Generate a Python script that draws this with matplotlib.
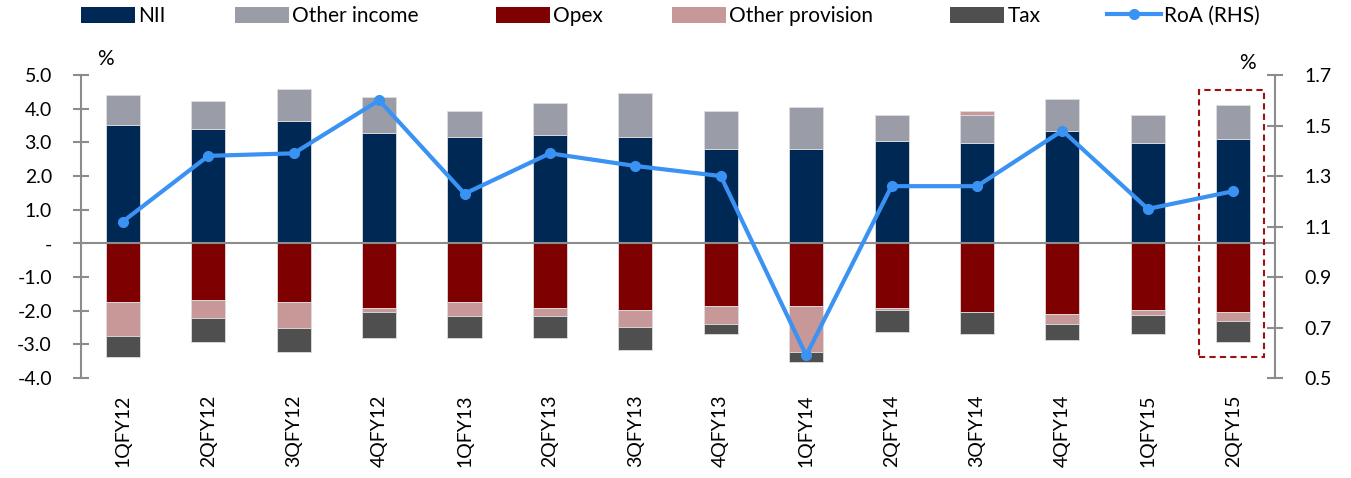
import numpy as np
import matplotlib
matplotlib.use("Agg")
import matplotlib.pyplot as plt
from matplotlib.patches import Patch, Rectangle
from matplotlib.lines import Line2D

plt.rcParams['font.family'] = ['Lato', 'DejaVu Sans']

# data
quarters = ['1QFY12', '2QFY12', '3QFY12', '4QFY12', '1QFY13', '2QFY13', '3QFY13',
            '4QFY13', '1QFY14', '2QFY14', '3QFY14', '4QFY14', '1QFY15', '2QFY15']
nii = [3.52, 3.40, 3.64, 3.28, 3.16, 3.22, 3.16, 2.81, 2.81, 3.04, 2.99, 3.34, 2.99, 3.10]
other_income = [0.89, 0.84, 0.95, 1.07, 0.77, 0.95, 1.30, 1.12, 1.24, 0.78, 0.83, 0.95, 0.83, 1.01]
opex = [-1.74, -1.68, -1.74, -1.92, -1.74, -1.92, -1.98, -1.86, -1.86, -1.92, -2.04, -2.10, -1.98, -2.04]
other_prov = [-1.02, -0.55, -0.78, -0.13, -0.43, -0.25, -0.49, -0.54, -1.37, -0.07, 0.11, -0.30, -0.14, -0.25]
tax = [-0.60, -0.70, -0.71, -0.76, -0.64, -0.64, -0.70, -0.29, -0.29, -0.64, -0.65, -0.47, -0.57, -0.64]
roa = [1.12, 1.38, 1.39, 1.60, 1.23, 1.39, 1.34, 1.30, 0.59, 1.26, 1.26, 1.48, 1.17, 1.24]

series = [('NII', nii, '#002855'),
          ('Other income', other_income, '#9A9DA8'),
          ('Opex', opex, '#7F0000'),
          ('Other provision', other_prov, '#C89898'),
          ('Tax', tax, '#4F4F4F')]
line_color = '#3A92F2'

fig = plt.figure(figsize=(13.51, 4.78), dpi=100)
ax = fig.add_axes([0.0600, 0.209, 0.8838, 0.634])
x = np.arange(len(quarters))

pos_base = np.zeros(len(x))
neg_base = np.zeros(len(x))
for name, vals, col in series:
    v = np.array(vals)
    base = np.where(v >= 0, pos_base, neg_base)
    ax.bar(x, v, 0.40, bottom=base, color=col, edgecolor='#DDDDDD', linewidth=0.6, zorder=2)
    pos_base += np.where(v >= 0, v, 0)
    neg_base += np.where(v < 0, v, 0)

ax.axhline(0, color='#8C8C8C', lw=1.5, zorder=3)
ax.set_xlim(-0.49, 13.49)
ax.set_ylim(-4, 5)
ax.set_yticks(np.arange(-4, 5.1, 1))
ax.set_yticklabels(['-' if t == 0 else f'{t:.1f}' for t in np.arange(-4, 5.1, 1)])
ax.set_xticks(x)
ax.set_xticklabels(quarters, rotation=90)
ax.tick_params(axis='x', length=0, pad=12, labelsize=14)
ax.tick_params(axis='y', direction='inout', length=12, width=1.5, color='#8C8C8C', labelsize=14, pad=15)
for s in ['top', 'right', 'bottom']:
    ax.spines[s].set_visible(False)
ax.spines['left'].set_color('#8C8C8C')
ax.spines['left'].set_linewidth(1.5)

ax2 = ax.twinx()
ax2.plot(x, roa, color=line_color, lw=3, marker='o', markersize=7, zorder=5)
ax2.set_ylim(0.5, 1.7)
ax2.set_yticks(np.arange(0.5, 1.71, 0.2))
ax2.set_yticklabels([f'{t:.1f}' for t in np.arange(0.5, 1.71, 0.2)])
ax2.tick_params(axis='y', direction='inout', length=12, width=1.5, color='#8C8C8C', labelsize=14, pad=15)
for s in ['top', 'left', 'bottom']:
    ax2.spines[s].set_visible(False)
ax2.spines['right'].set_color('#8C8C8C')
ax2.spines['right'].set_linewidth(1.5)

# highlight box around the latest quarter
ax.add_patch(Rectangle((12.60, -3.37), 0.755, 7.94, fill=False, edgecolor='#A01010',
                       lw=1.5, ls=(0, (3, 2)), clip_on=False, zorder=6))

fig.text(105 / 1351, 1 - 59 / 478, '%', fontsize=15, ha='center', va='center')
fig.text(1247 / 1351, 1 - 63 / 478, '%', fontsize=15, ha='center', va='center')

# legend, one entry per box to keep Excel-like spacing
handles = [Patch(facecolor=c, edgecolor='none') for _, _, c in series]
handles.append(Line2D([0], [0], color=line_color, lw=3, marker='o', markersize=7))
labels = [n for n, _, _ in series] + ['RoA (RHS)']
xpos = [81, 235, 496, 672, 950, 1107]
for h, lab, xp in zip(handles, labels, xpos):
    fig.legend(handles=[h], labels=[lab], loc='center left', bbox_to_anchor=(xp / 1351, 1 - 16 / 478),
               frameon=False, fontsize=15, handlelength=2.6, handleheight=0.77, handletextpad=0.15,
               borderaxespad=0, borderpad=0)

fig.savefig('out.png', dpi=100)
